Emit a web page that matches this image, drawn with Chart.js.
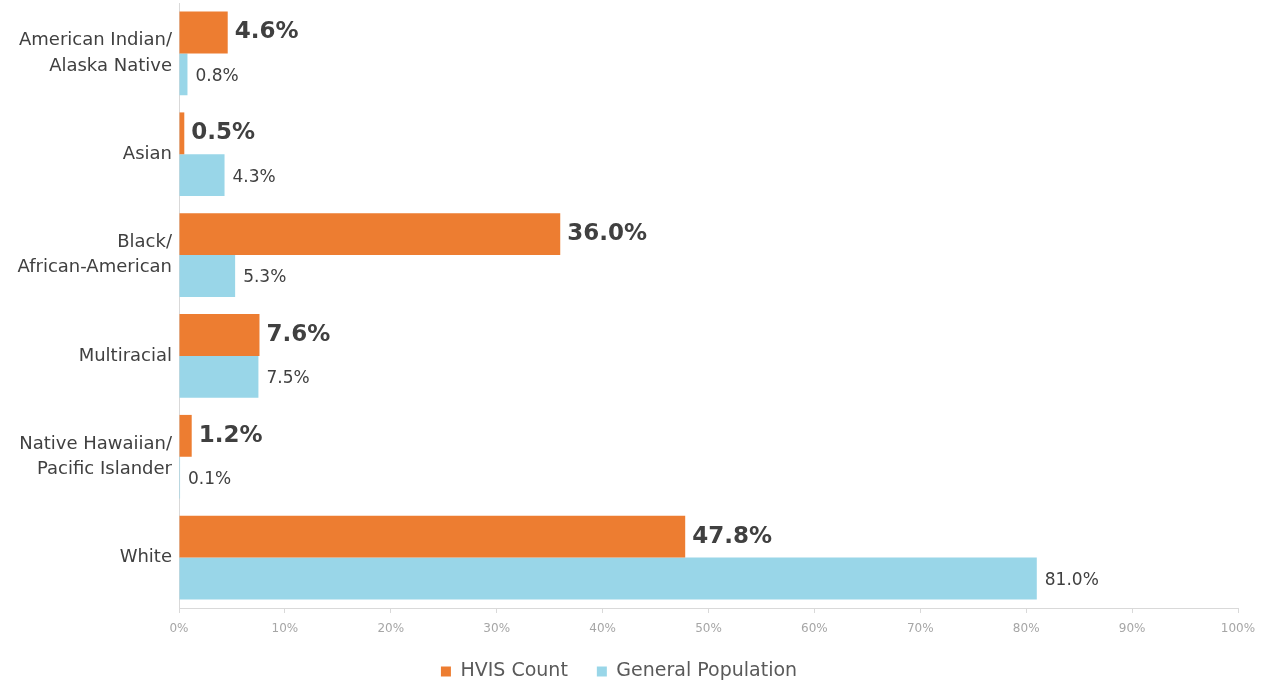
<!DOCTYPE html>
<html>
<head>
<meta charset="utf-8">
<script src="https://cdn.jsdelivr.net/npm/chart.js@4.4.1/dist/chart.umd.min.js"></script>
<style>
  html, body { margin: 0; padding: 0; background: #ffffff; }
  #wrap { width: 1268px; height: 680px; position: relative; }
</style>
</head>
<body>
<div id="wrap"><canvas id="c" width="1268" height="680"></canvas></div>
<script>
const categories = [
  ["American Indian/", "Alaska Native"],
  "Asian",
  ["Black/", "African-American"],
  "Multiracial",
  ["Native Hawaiian/", "Pacific Islander"],
  "White"
];
const hvisCount = [4.6, 0.5, 36.0, 7.6, 1.2, 47.8];
const generalPopulation = [0.8, 4.3, 5.3, 7.5, 0.1, 81.0];
const seriesNames = ["HVIS Count", "General Population"];
const xTickMin = 0, xTickMax = 100, xTickStep = 10;

const ORANGE = '#ED7D31';
const BLUE = '#99D6E8';
const FONT = 'DejaVu Sans';

const valueLabels = {
  id: 'valueLabels',
  afterDatasetsDraw(chart) {
    const ctx = chart.ctx;
    chart.data.datasets.forEach((ds, di) => {
      const meta = chart.getDatasetMeta(di);
      meta.data.forEach((bar, i) => {
        const v = ds.data[i];
        ctx.save();
        ctx.fillStyle = '#404040';
        ctx.textBaseline = 'middle';
        if (di === 0) {
          ctx.font = 'bold 23px "' + FONT + '"';
          ctx.fillText(v.toFixed(1) + '%', bar.x + 7, bar.y);
        } else {
          ctx.font = '17px "' + FONT + '"';
          ctx.fillText(v.toFixed(1) + '%', bar.x + 8, bar.y + 2);
        }
        ctx.restore();
      });
    });
  }
};

const legendFit = {
  id: 'legendFit',
  beforeInit(chart) {
    const lg = chart.legend;
    if (lg) {
      const orig = lg.fit;
      lg.fit = function () { orig.call(this); this.height = 47; };
    }
  }
};

new Chart(document.getElementById('c'), {
  type: 'bar',
  data: {
    labels: categories,
    datasets: [
      { label: seriesNames[0], data: hvisCount, backgroundColor: ORANGE, borderWidth: 0,
        categoryPercentage: 0.83, barPercentage: 1.0 },
      { label: seriesNames[1], data: generalPopulation, backgroundColor: BLUE, borderWidth: 0,
        categoryPercentage: 0.83, barPercentage: 1.0 }
    ]
  },
  options: {
    indexAxis: 'y',
    responsive: false,
    animation: false,
    layout: { padding: { top: 3, right: 30, bottom: 0, left: 0 } },
    scales: {
      x: {
        min: xTickMin, max: xTickMax,
        ticks: {
          stepSize: xTickStep,
          callback: v => v + '%',
          font: { family: FONT, size: 12 },
          color: '#a6a6a6',
          padding: 9,
          maxRotation: 0
        },
        grid: { display: true, drawOnChartArea: false, tickLength: 5, color: '#d9d9d9' },
        border: { display: true, color: '#d9d9d9' },
        afterFit(scale) { scale.height = 25; scale.paddingLeft = 0; scale.paddingRight = 0; }
      },
      y: {
        ticks: {
          font: { family: FONT, size: 18, lineHeight: 1.4 },
          color: '#404040',
          padding: 7
        },
        grid: { display: false, drawTicks: false, tickLength: 0 },
        border: { display: true, color: '#d9d9d9' },
        afterFit(scale) { scale.width = 179; scale.paddingTop = 0; scale.paddingBottom = 0; }
      }
    },
    plugins: {
      legend: {
        position: 'bottom',
        labels: {
          boxWidth: 10, boxHeight: 10,
          padding: 29,
          font: { family: FONT, size: 19 },
          color: '#595959'
        }
      },
      tooltip: { enabled: false }
    }
  },
  plugins: [valueLabels, legendFit]
});
</script>
</body>
</html>
